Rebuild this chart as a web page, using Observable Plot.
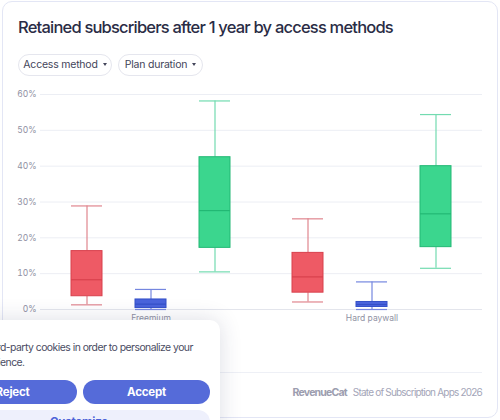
<!DOCTYPE html>
<html>
<head>
<meta charset="utf-8">
<script src="https://cdn.jsdelivr.net/npm/d3@7"></script>
<script src="https://cdn.jsdelivr.net/npm/@observablehq/plot@0.6"></script>
<style>
  html, body { margin: 0; padding: 0; background: #ffffff; width: 500px; height: 420px; overflow: hidden; font-family: Inter, "Noto Sans", sans-serif; letter-spacing: -0.05em; }
  .card { position: absolute; left: 2px; top: 1px; width: 494px; height: 415px; border: 1px solid #e3e6f5; border-radius: 10px; background: #fff; }
  .title { position: absolute; left: 18px; top: 17px; font-size: 16.5px; font-weight: 500; color: #2a2c45; white-space: nowrap; }
  .pill { position: absolute; top: 54px; height: 20px; border: 1px solid #e5e6ee; border-radius: 11px; font-size: 10.5px; color: #43455a; line-height: 20px; text-align: center; white-space: nowrap; letter-spacing: -0.02em; }
  .pill .caret { display: inline-block; width: 0; height: 0; margin-left: 5px; vertical-align: 2px; border-left: 2.5px solid transparent; border-right: 2.5px solid transparent; border-top: 3px solid #43455a; }
  #chart { position: absolute; left: 0; top: 84px; letter-spacing: 0; }
  .sep { position: absolute; left: 18px; top: 372px; width: 464px; height: 1px; background: #eef0f6; }
  .footer { position: absolute; right: 18px; top: 386px; font-size: 10px; color: #a3a5b8; white-space: nowrap; }
  .footer b { color: #9c9daf; font-weight: 700; font-size: 10.5px; margin-right: 6px; }
  .banner { position: absolute; left: -70px; top: 320px; width: 290px; height: 120px; background: #fff; border-radius: 10px; box-shadow: 0 0 22px rgba(40, 44, 90, 0.16); }
  .btext { position: absolute; left: 0; font-size: 10.4px; color: #4a4c63; white-space: nowrap; letter-spacing: -0.05em; }
  .btn { position: absolute; height: 24px; border-radius: 12px; font-size: 11.5px; font-weight: 700; line-height: 24px; text-align: center; white-space: nowrap; letter-spacing: -0.02em; }
  .btn.primary { background: #556bd9; color: #fff; }
  .btn.soft { background: #eef0fc; color: #4f63d8; }
</style>
</head>
<body>
<div class="card"></div>
<div class="title">Retained subscribers after 1 year by access methods</div>
<div class="pill" style="left:18px;width:92px;">Access method<span class="caret"></span></div>
<div class="pill" style="left:118px;width:83px;">Plan duration<span class="caret"></span></div>
<div id="chart"></div>
<div class="sep"></div>
<div class="footer"><b>RevenueCat</b>State of Subscription Apps 2026</div>

<div class="banner"></div>
<div class="btext" style="top:341px;"><span class="lead">We use thir</span>d-party cookies in order to personalize your</div>
<div class="btext" style="top:356px;"><span class="lead">experi</span>ence.</div>
<div class="btn primary" style="left:-52px;top:380px;width:129px;">Reject</div>
<div class="btn primary" style="left:83px;top:380px;width:127px;">Accept</div>
<div class="btn soft" style="left:-52px;top:410px;width:262px;">Customize</div>

<script>
// The consent banner sits partly off the left edge of the page:
// shift each line so its leading part runs past the edge.
document.querySelectorAll(".btext").forEach(line => {
  const lead = line.querySelector(".lead");
  line.style.left = (-lead.getBoundingClientRect().width) + "px";
});

// Access methods (facets) and plan durations (boxes within each facet)
const accessMethods = ["Freemium", "Hard paywall"];
const planDurations = ["Monthly", "Weekly", "Yearly"];

// Retention after one year, % — one value per [method][duration]
const minVals    = [[1.3, 0.0, 10.5], [2.1, 0.0, 11.5]];
const q1Vals     = [[3.7, 0.4, 17.2], [4.7, 0.7, 17.4]];
const medianVals = [[8.3, 1.5, 27.6], [9.1, 1.4, 26.7]];
const q3Vals     = [[16.3, 2.8, 42.5], [15.8, 2.1, 40.0]];
const maxVals    = [[28.9, 5.6, 58.2], [25.3, 7.7, 54.4]];

const yTicks = [0, 10, 20, 30, 40, 50, 60];

const palette = {
  Monthly: { fill: "#ee5a65", stroke: "#d8414d", whisker: "#e0858e" },
  Weekly:  { fill: "#4a64dc", stroke: "#3450c8", whisker: "#7587df" },
  Yearly:  { fill: "#3bd68e", stroke: "#22b874", whisker: "#72dbb0" }
};

const rows = accessMethods.flatMap((method, i) =>
  planDurations.map((duration, j) => ({
    method, duration,
    min: minVals[i][j], q1: q1Vals[i][j], median: medianVals[i][j],
    q3: q3Vals[i][j], max: maxVals[i][j]
  }))
);

const boxMarks = planDurations.flatMap(duration => {
  const c = palette[duration];
  const data = rows.filter(d => d.duration === duration);
  return [
    Plot.ruleX(data, { fx: "method", x: "duration", y1: "min", y2: "q1", stroke: c.whisker, strokeWidth: 1.2 }),
    Plot.ruleX(data, { fx: "method", x: "duration", y1: "q3", y2: "max", stroke: c.whisker, strokeWidth: 1.2 }),
    Plot.tickY(data, { fx: "method", x: "duration", y: "min", stroke: c.whisker, strokeWidth: 1.2 }),
    Plot.tickY(data, { fx: "method", x: "duration", y: "max", stroke: c.whisker, strokeWidth: 1.2 }),
    Plot.barY(data, { fx: "method", x: "duration", y1: "q1", y2: "q3", fill: c.fill, stroke: c.stroke, strokeWidth: 1 }),
    Plot.tickY(data, { fx: "method", x: "duration", y: "median", stroke: c.stroke, strokeWidth: 1.2 })
  ];
});

const chart = Plot.plot({
  width: 500,
  height: 245,
  marginLeft: 40,
  marginRight: 18,
  marginTop: 10,
  marginBottom: 20,
  style: { fontFamily: "Inter, 'Noto Sans', sans-serif", fontSize: "8.5px", color: "#8f91a3", background: "transparent" },
  fx: { domain: accessMethods, padding: 0, label: null },
  x: { domain: planDurations, paddingInner: 0.516, paddingOuter: 0.484, axis: null },
  y: { domain: [0, 60], label: null },
  marks: [
    Plot.gridY(yTicks, { stroke: "#eceef4", strokeOpacity: 1 }),
    Plot.ruleY([0], { stroke: "#e3e5ec" }),
    Plot.axisY(yTicks, { tickSize: 0, tickPadding: 4, tickFormat: d => d + "%", label: null, fill: "#8f91a3" }),
    Plot.axisFx({ anchor: "bottom", tickSize: 0, tickPadding: 5, label: null, fill: "#8f91a3" }),
    ...boxMarks
  ]
});

document.getElementById("chart").appendChild(chart);
</script>
</body>
</html>
